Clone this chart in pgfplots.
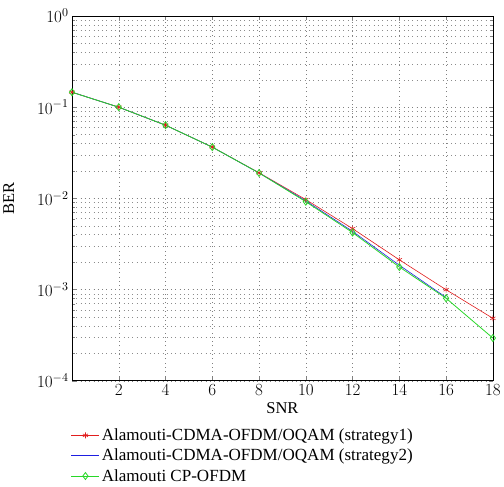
\RequirePackage{fix-cm}
\documentclass[border=0pt]{standalone}
\usepackage{fontspec}
\setmainfont{Liberation Serif}
\usepackage{pgfplots}
\pgfplotsset{compat=1.18}
\definecolor{cred}{RGB}{225,30,30}
\definecolor{cblue}{RGB}{30,30,225}
\definecolor{cgreen}{RGB}{40,215,40}
\begin{document}
\begin{tikzpicture}
\begin{axis}[
  scale only axis,
  width=420pt, height=364pt,
  ymode=log,
  xmin=0, xmax=18, ymin=1e-4, ymax=1,
  xtick={2,4,...,18},
  ytick={1e-4,1e-3,1e-2,1e-1,1},
  grid=both,
  major grid style={dash pattern=on 0.8pt off 3.5pt, black!50},
  minor grid style={dash pattern=on 0.8pt off 3.5pt, black!45},
  minor x tick num=0,
  tick align=inside,
  axis line style={semithick},
  xlabel={SNR}, ylabel={BER},
  ylabel shift=16pt,
  yticklabel shift=0pt,
  tick label style={font=\fontsize{17}{19}\selectfont},
  label style={font=\fontsize{16.5}{18}\selectfont},
  legend style={at={(-0.01,-0.12)}, anchor=north west, draw=none, fill=none,
    font=\fontsize{17}{19}\selectfont, row sep=3pt, cells={anchor=west}},
  legend cell align=left,
  legend image code/.code={
    \draw[mark repeat=2, mark phase=2] plot coordinates {(0pt,0pt) (14pt,0pt) (28pt,0pt)};},
]
\addplot[color=cred, semithick, mark=asterisk, mark size=3pt] coordinates {
  (0,0.146) (2,0.1) (4,0.0635) (6,0.0365) (8,0.0191) (10,0.0097)
  (12,0.00466) (14,0.00212) (16,0.000996) (18,0.000484)};
\addlegendentry{Alamouti-CDMA-OFDM/OQAM (strategy1)}
\addplot[color=cblue, semithick, no marks] coordinates {
  (0,0.146) (2,0.1) (4,0.0635) (6,0.0365) (8,0.0190) (10,0.0094)
  (12,0.00435) (14,0.00185) (16,0.00082)};
\addlegendentry{Alamouti-CDMA-OFDM/OQAM (strategy2)}
\addplot[color=cgreen, thick, mark=diamond, mark size=3.5pt, mark options={solid}] coordinates {
  (0,0.146) (2,0.1) (4,0.0635) (6,0.0365) (8,0.0190) (10,0.0092)
  (12,0.00422) (14,0.00177) (16,0.000803) (18,0.000294)};
\addlegendentry{Alamouti CP-OFDM}
\end{axis}
% extra white space above the axis, as in the reference
\path (current axis.north west) ++(0,16pt);
\end{tikzpicture}
\end{document}
